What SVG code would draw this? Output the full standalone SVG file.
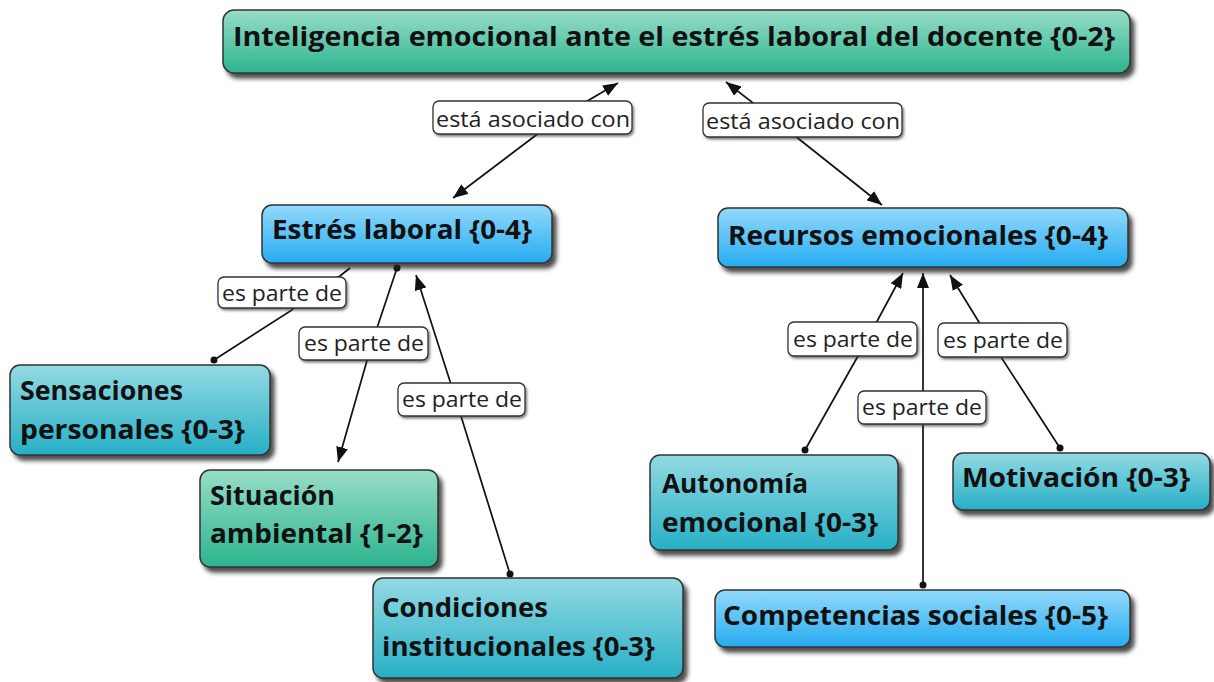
<svg xmlns="http://www.w3.org/2000/svg" width="1214" height="682" viewBox="0 0 1214 682">
<defs>
<linearGradient id="gGreen" x1="0" y1="0" x2="0" y2="1"><stop offset="0" stop-color="#97ddc8"/><stop offset="1" stop-color="#2db48e"/></linearGradient>
<linearGradient id="gBlue" x1="0" y1="0" x2="0" y2="1"><stop offset="0" stop-color="#93d9fb"/><stop offset="1" stop-color="#25acf0"/></linearGradient>
<linearGradient id="gCyan" x1="0" y1="0" x2="0" y2="1"><stop offset="0" stop-color="#93dae3"/><stop offset="1" stop-color="#27afc6"/></linearGradient>
<filter id="sh" x="-10%" y="-20%" width="125%" height="150%"><feDropShadow dx="4" dy="5" stdDeviation="2.2" flood-color="#222" flood-opacity="0.8"/></filter>
<filter id="shs" x="-10%" y="-20%" width="125%" height="150%"><feDropShadow dx="1.5" dy="2" stdDeviation="1" flood-color="#333" flood-opacity="0.6"/></filter>
<marker id="arr" markerUnits="userSpaceOnUse" markerWidth="16" markerHeight="12" refX="15" refY="6" orient="auto-start-reverse"><path d="M0,0 L15,6 L0,12 z" fill="#111"/></marker>
<style>
.node rect{stroke:#333;stroke-width:1.5;filter:url(#sh)}
.nt{font-family:"Open Sans","Noto Sans",sans-serif;font-weight:bold;font-size:27px;fill:#111}
.lbl rect{fill:#fff;stroke:#333;stroke-width:1.3;filter:url(#shs)}
.lt{font-family:"Open Sans","Noto Sans",sans-serif;font-size:21px;fill:#222;text-anchor:middle}
.ln{fill:none;stroke:#111;stroke-width:1.7}
</style>
</defs>
<g id="connectors">
<polyline class="ln" points="453,198 560,117 618,83" marker-start="url(#arr)" marker-end="url(#arr)"/>
<polyline class="ln" points="726,82 775,120 882,205" marker-start="url(#arr)" marker-end="url(#arr)"/>
<polyline class="ln" points="214,360 292,310 300,295 340,276 350,268"/>
<polyline class="ln" points="397,268 372,343 338,462" marker-end="url(#arr)"/>
<polyline class="ln" points="510,574 456,400 416,275" marker-end="url(#arr)"/>
<polyline class="ln" points="805,450 867,340 903,273" marker-end="url(#arr)"/>
<polyline class="ln" points="923,585 923,273" marker-end="url(#arr)"/>
<polyline class="ln" points="1060,448 990,340 950,275" marker-end="url(#arr)"/>
<circle cx="214" cy="360" r="3.5" fill="#111"/>
<circle cx="397" cy="268" r="3.5" fill="#111"/>
<circle cx="510" cy="574" r="3.5" fill="#111"/>
<circle cx="805" cy="450" r="3.5" fill="#111"/>
<circle cx="923" cy="585" r="3.5" fill="#111"/>
<circle cx="1060" cy="448" r="3.5" fill="#111"/>
<g class="lbl"><rect x="433" y="101" width="199" height="33" rx="6"/><text class="lt" x="533" y="127" textLength="194" lengthAdjust="spacingAndGlyphs">está asociado con</text></g>
<g class="lbl"><rect x="703" y="103" width="199" height="34" rx="6"/><text class="lt" x="803" y="129" textLength="194" lengthAdjust="spacingAndGlyphs">está asociado con</text></g>
<g class="lbl"><rect x="218" y="277" width="128" height="31" rx="6"/><text class="lt" x="282" y="301" textLength="120" lengthAdjust="spacingAndGlyphs">es parte de</text></g>
<g class="lbl"><rect x="299" y="327" width="129" height="33" rx="6"/><text class="lt" x="364" y="351" textLength="120" lengthAdjust="spacingAndGlyphs">es parte de</text></g>
<g class="lbl"><rect x="398" y="383" width="127" height="33" rx="6"/><text class="lt" x="462" y="407" textLength="120" lengthAdjust="spacingAndGlyphs">es parte de</text></g>
<g class="lbl"><rect x="788" y="322" width="129" height="34" rx="6"/><text class="lt" x="853" y="347" textLength="120" lengthAdjust="spacingAndGlyphs">es parte de</text></g>
<g class="lbl"><rect x="858" y="391" width="128" height="33" rx="6"/><text class="lt" x="922" y="415" textLength="120" lengthAdjust="spacingAndGlyphs">es parte de</text></g>
<g class="lbl"><rect x="938" y="323" width="129" height="34" rx="6"/><text class="lt" x="1003" y="348" textLength="120" lengthAdjust="spacingAndGlyphs">es parte de</text></g>
</g>
<g id="n-top" class="node"><rect x="223" y="10" width="907" height="63" rx="11" fill="url(#gGreen)"/><text class="nt" x="233" y="46" textLength="882" lengthAdjust="spacingAndGlyphs">Inteligencia emocional ante el estrés laboral del docente {0-2}</text></g>
<g id="n-estres" class="node"><rect x="262" y="205" width="290" height="58" rx="10" fill="url(#gBlue)"/><text class="nt" x="272" y="239" textLength="260" lengthAdjust="spacingAndGlyphs">Estrés laboral {0-4}</text></g>
<g id="n-recursos" class="node"><rect x="718" y="208" width="410" height="59" rx="10" fill="url(#gBlue)"/><text class="nt" x="728" y="245" textLength="380" lengthAdjust="spacingAndGlyphs">Recursos emocionales {0-4}</text></g>
<g id="n-sensaciones" class="node"><rect x="10" y="365" width="260" height="90" rx="10" fill="url(#gCyan)"/><text class="nt" x="20" y="400" textLength="163" lengthAdjust="spacingAndGlyphs">Sensaciones</text><text class="nt" x="20" y="439" textLength="225" lengthAdjust="spacingAndGlyphs">personales {0-3}</text></g>
<g id="n-situacion" class="node"><rect x="200" y="470" width="238" height="97" rx="10" fill="url(#gGreen)"/><text class="nt" x="210" y="505" textLength="125" lengthAdjust="spacingAndGlyphs">Situación</text><text class="nt" x="210" y="543" textLength="213" lengthAdjust="spacingAndGlyphs">ambiental {1-2}</text></g>
<g id="n-condiciones" class="node"><rect x="373" y="578" width="310" height="100" rx="10" fill="url(#gCyan)"/><text class="nt" x="382" y="617" textLength="166" lengthAdjust="spacingAndGlyphs">Condiciones</text><text class="nt" x="382" y="656" textLength="273" lengthAdjust="spacingAndGlyphs">institucionales {0-3}</text></g>
<g id="n-autonomia" class="node"><rect x="650" y="455" width="248" height="95" rx="10" fill="url(#gCyan)"/><text class="nt" x="662" y="493" textLength="146" lengthAdjust="spacingAndGlyphs">Autonomía</text><text class="nt" x="662" y="532" textLength="216" lengthAdjust="spacingAndGlyphs">emocional {0-3}</text></g>
<g id="n-motivacion" class="node"><rect x="953" y="453" width="257" height="57" rx="10" fill="url(#gCyan)"/><text class="nt" x="962" y="487" textLength="228" lengthAdjust="spacingAndGlyphs">Motivación {0-3}</text></g>
<g id="n-competencias" class="node"><rect x="715" y="590" width="415" height="57" rx="10" fill="url(#gBlue)"/><text class="nt" x="723" y="625" textLength="385" lengthAdjust="spacingAndGlyphs">Competencias sociales {0-5}</text></g>
</svg>
